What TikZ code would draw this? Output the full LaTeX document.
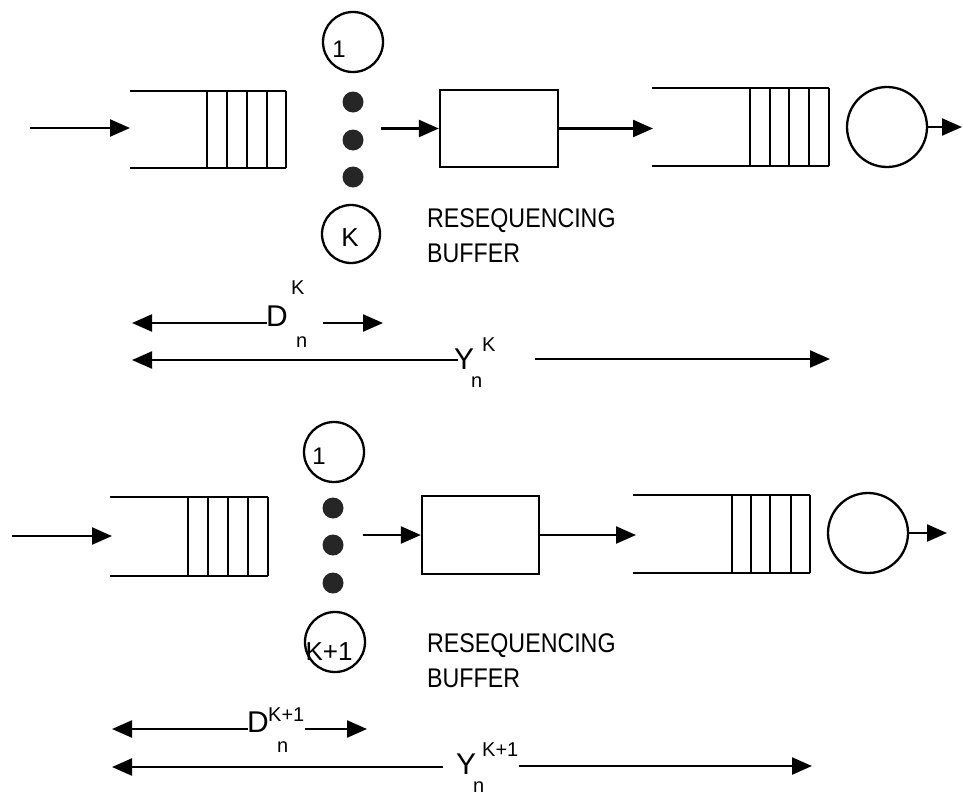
\documentclass[tikz,border=0pt]{standalone}
\usepackage{fontspec}
\setmainfont{Liberation Sans}
\usetikzlibrary{arrows.meta}
\newcommand\fntMain{\fontsize{30}{32}\selectfont}
\newcommand\fntSup{\fontsize{20}{22}\selectfont}
\newcommand\fntLbl{\fontsize{27}{29}\selectfont}
\newcommand\fntOne{\fontsize{24}{26}\selectfont}
\newcommand\fntCirc{\fontsize{26}{28}\selectfont}
\begin{document}
\begin{tikzpicture}[x=1pt,y=-1pt,
  ln/.style={line width=2.3pt},
  qln/.style={line width=2pt},
  arr/.style={ln,-{Triangle[length=20pt,width=17pt]}},
  ring/.style={draw,circle,ln,inner sep=0pt},
  dotnode/.style={circle,fill=black!85,minimum size=21pt,inner sep=0pt},
  boxnode/.style={draw,ln,inner sep=0pt},
  txt/.style={anchor=base west,inner sep=0pt},
  ctxt/.style={anchor=center,inner sep=0pt}]
\useasboundingbox (0,0) rectangle (963,803);

% ================= TOP PANEL =================
\coordinate (tin) at (30,128);
\coordinate (tq1) at (130,128);
\draw[arr] (tin) -- (tq1);
\draw[qln] (130,91) -- (286,91) (130,168) -- (286,168);
\foreach \x in {207,227,247,267,286} \draw[qln] (\x,91) -- (\x,168);

\node[ring,minimum size=60pt] (t1) at (353,42) {};
\node[ctxt,font=\fntOne] (t1l) at (339,49) {1};
\node[dotnode] (td1) at (353,102) {};
\node[dotnode] (td2) at (353,140) {};
\node[dotnode] (td3) at (353,177) {};
\node[ring,minimum size=58pt] (tk) at (351,234) {};
\node[ctxt,font=\fntCirc] (tkl) at (350,238) {K};

\node[boxnode,minimum width=118pt,minimum height=77pt] (tbox) at (499,128.5) {};
\coordinate (tda) at (381,128.5);
\draw[arr] (tda) -- (tbox.west);
\coordinate (tq2) at (653,128.5);
\draw[arr] (tbox.east) -- (tq2);

\draw[qln] (652,88) -- (829,88) (652,166) -- (829,166);
\foreach \x in {750,770,789,809,829} \draw[qln] (\x,88) -- (\x,166);
\node[ring,minimum size=80pt] (tsrv) at (887,127) {};
\coordinate (tout) at (962,127);
\draw[arr] (tsrv.east) -- (tout);

\node[txt,font=\fntLbl] (tres) at (427,227) {\scalebox{0.86}[1]{RESEQUENCING}};
\node[txt,font=\fntLbl] (tbuf) at (427,262) {\scalebox{0.86}[1]{BUFFER}};

% D^K_n
\node[txt,font=\fntMain] (tD) at (266,326) {D};
\node[txt,font=\fntSup] (tDk) at (291,294) {K};
\node[txt,font=\fntSup] (tDn) at (296,347) {n};
\coordinate (tDa) at (267,323);
\coordinate (tDl) at (132,323);
\coordinate (tDb) at (323,323);
\coordinate (tDr) at (383,323);
\draw[arr] (tDa) -- (tDl);
\draw[arr] (tDb) -- (tDr);

% Y^K_n
\node[txt,font=\fntMain] (tY) at (454,369) {Y};
\node[txt,font=\fntSup] (tYk) at (482,351) {K};
\node[txt,font=\fntSup] (tYn) at (471,387) {n};
\coordinate (tYa) at (458,360);
\coordinate (tYl) at (132,360);
\coordinate (tYb) at (535,359);
\coordinate (tYr) at (830,359);
\draw[arr] (tYa) -- (tYl);
\draw[arr] (tYb) -- (tYr);

% ================= BOTTOM PANEL =================
\coordinate (bin) at (12,536);
\coordinate (bq1) at (112,536);
\draw[arr] (bin) -- (bq1);
\draw[qln] (110,497) -- (268,497) (110,576) -- (268,576);
\foreach \x in {188,208,228,248,268} \draw[qln] (\x,497) -- (\x,576);

\node[ring,minimum size=60pt] (b1) at (334,452) {};
\node[ctxt,font=\fntOne] (b1l) at (319,456) {1};
\node[dotnode] (bd1) at (333,508) {};
\node[dotnode] (bd2) at (333,545) {};
\node[dotnode] (bd3) at (333,583) {};
\node[ring,minimum size=60pt] (bk) at (335,642) {};
\node[ctxt,font=\fntCirc] (bkl) at (329,652) {K+1};

\node[boxnode,minimum width=117pt,minimum height=78pt] (bbox) at (480.5,535) {};
\coordinate (bda) at (363,535);
\draw[arr] (bda) -- (bbox.west);
\coordinate (bq2) at (636,535);
\draw[arr] (bbox.east) -- (bq2);

\draw[qln] (633,495) -- (810,495) (633,573) -- (810,573);
\foreach \x in {732,751,770,791,810} \draw[qln] (\x,495) -- (\x,573);
\node[ring,minimum size=80pt] (bsrv) at (868,533) {};
\coordinate (bout) at (947,533);
\draw[arr] (bsrv.east) -- (bout);

\node[txt,font=\fntLbl] (bres) at (427,652) {\scalebox{0.86}[1]{RESEQUENCING}};
\node[txt,font=\fntLbl] (bbuf) at (427,687) {\scalebox{0.86}[1]{BUFFER}};

% D^{K+1}_n
\node[txt,font=\fntMain] (bD) at (247,732) {D};
\node[txt,font=\fntSup] (bDk) at (268,721) {K+1};
\node[txt,font=\fntSup] (bDn) at (277,752) {n};
\coordinate (bDa) at (248,729);
\coordinate (bDl) at (112,729);
\coordinate (bDb) at (305,729);
\coordinate (bDr) at (367,729);
\draw[arr] (bDa) -- (bDl);
\draw[arr] (bDb) -- (bDr);

% Y^{K+1}_n
\node[txt,font=\fntMain] (bY) at (456,774) {Y};
\node[txt,font=\fntSup] (bYk) at (482,756) {K+1};
\node[txt,font=\fntSup] (bYn) at (473,792) {n};
\coordinate (bYa) at (443,767);
\coordinate (bYl) at (112,767);
\coordinate (bYb) at (519,766);
\coordinate (bYr) at (812,766);
\draw[arr] (bYa) -- (bYl);
\draw[arr] (bYb) -- (bYr);
\end{tikzpicture}
\end{document}
